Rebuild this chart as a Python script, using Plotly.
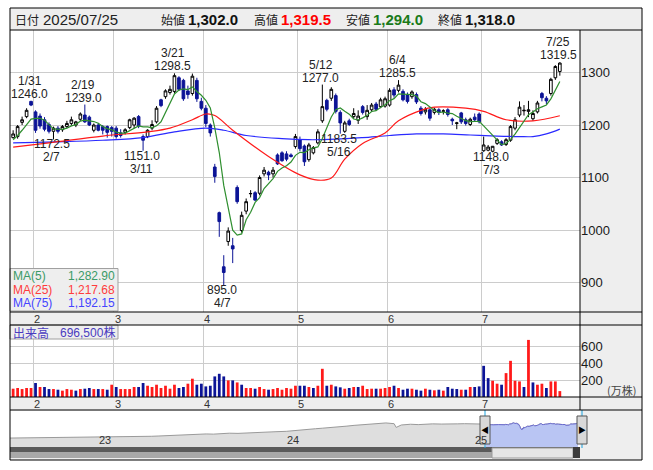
import plotly.graph_objects as go
import pandas as pd

W, H = 653, 470

# ---------------- data ----------------
holidays = ["2025-02-11", "2025-02-24", "2025-03-20", "2025-04-29",
            "2025-05-05", "2025-05-06", "2025-07-21"]
trade_days = [d for d in pd.bdate_range("2025-01-27", "2025-07-25")
              if d.strftime("%Y-%m-%d") not in holidays]

open_ = [1176, 1178, 1205, 1216, 1245, 1225, 1217, 1210, 1201, 1188,
         1194, 1191, 1197, 1203, 1200, 1211, 1219, 1215, 1190, 1200,
         1197, 1197, 1195, 1194, 1185, 1186, 1195, 1200, 1216, 1178,
         1178, 1194, 1206, 1248, 1254, 1262, 1264, 1290, 1285, 1265,
         1260, 1285, 1245, 1232, 1200, 1120, 1033, 930, 978, 970,
         1081, 999, 1036, 1069, 1071, 1070, 1107, 1110, 1107, 1143,
         1147, 1145, 1143, 1159, 1172, 1160, 1134, 1147, 1166, 1208,
         1247, 1251, 1256, 1224, 1188, 1208, 1216, 1209, 1235, 1216,
         1229, 1240, 1235, 1236, 1238, 1267, 1266, 1264, 1257, 1254,
         1258, 1232, 1225, 1229, 1224, 1229, 1226, 1229, 1211, 1203,
         1223, 1210, 1201, 1215, 1221, 1151, 1152, 1150, 1165, 1168,
         1163, 1171, 1194, 1219, 1227, 1226, 1212, 1225, 1260, 1251,
         1260, 1290, 1302]
high = [1190, 1200, 1216, 1232, 1246, 1228, 1222, 1215, 1205, 1197,
        1198, 1200, 1208, 1216, 1208, 1224, 1239, 1218, 1203, 1204,
        1200, 1199, 1198, 1198, 1192, 1194, 1212, 1215, 1219, 1182,
        1192, 1209, 1236, 1250, 1268, 1275, 1298.5, 1293, 1288, 1275,
        1298, 1290, 1252, 1238, 1203, 1126, 1035, 952, 1005, 985,
        1085, 1035, 1060, 1076, 1074, 1104, 1120, 1113, 1120, 1146,
        1150, 1150, 1146, 1183, 1178, 1163, 1166, 1160, 1192, 1277,
        1250, 1272, 1260, 1228, 1208, 1212, 1232, 1228, 1238, 1238,
        1242, 1244, 1252, 1254, 1270, 1272, 1285.5, 1268, 1262, 1266,
        1262, 1236, 1234, 1232, 1233, 1232, 1230, 1232, 1214, 1206,
        1225, 1214, 1214, 1222, 1224, 1178, 1162, 1160, 1175, 1171,
        1175, 1200, 1215, 1245, 1238, 1246, 1228, 1246, 1263, 1255,
        1290, 1314, 1319.5]
low = [1174, 1174, 1200, 1213, 1236, 1185, 1193, 1188, 1184, 1172.5,
       1184, 1187, 1194, 1199, 1196, 1208, 1204, 1198, 1186, 1188,
       1182, 1176, 1178, 1174, 1176, 1182, 1192, 1194, 1194, 1151,
       1175, 1190, 1203, 1234, 1250, 1258, 1260, 1265, 1246, 1250,
       1256, 1244, 1228, 1196, 1178, 1090, 987, 895, 970, 937,
       1050, 995, 1030, 1062, 1055, 1066, 1102, 1095, 1100, 1124,
       1130, 1131, 1138, 1155, 1150, 1122, 1130, 1144, 1163, 1204,
       1226, 1246, 1222, 1183.5, 1185, 1198, 1212, 1202, 1220, 1210,
       1225, 1227, 1232, 1233, 1235, 1252, 1262, 1245, 1241, 1250,
       1240, 1218, 1220, 1208, 1220, 1219, 1220, 1216, 1200, 1192,
       1202, 1199, 1198, 1206, 1203, 1149, 1150, 1148, 1162, 1160,
       1160, 1168, 1190, 1215, 1218, 1215, 1208, 1222, 1245, 1240,
       1256, 1286, 1294]
close = [1183, 1197, 1210, 1228, 1238, 1190, 1198, 1192, 1188, 1194,
         1188, 1197, 1203, 1210, 1206, 1221, 1206, 1200, 1200, 1190,
         1190, 1186, 1188, 1178, 1180, 1191, 1210, 1213, 1198, 1171,
         1190, 1201, 1232, 1237, 1265, 1268, 1294, 1268, 1250, 1258,
         1293, 1250, 1232, 1203, 1185, 1102, 1016, 919, 998, 964,
         1054, 1028, 1054, 1069.5, 1057, 1100, 1114, 1105, 1114, 1126,
         1132, 1135, 1140, 1178, 1155, 1130, 1162, 1157, 1187, 1235,
         1230, 1268, 1226, 1204, 1204, 1201, 1222, 1217, 1224, 1228,
         1238, 1230, 1248, 1250, 1266, 1257, 1276, 1248, 1245, 1263,
         1244, 1222, 1230, 1213, 1230, 1224, 1227, 1220, 1208, 1204,
         1206, 1203, 1211, 1210, 1206, 1162, 1158, 1159.5, 1172, 1162,
         1172, 1197, 1210, 1234, 1228, 1229, 1222, 1242, 1252, 1246,
         1287, 1311.5, 1318]
# volume in 10,000 shares (万株)
volume = [98, 106, 94, 106, 106, 165, 118, 118, 94, 94,
          86, 75, 94, 86, 75, 94, 98, 106, 94, 94,
          94, 86, 145, 118, 94, 94, 94, 118, 118, 165,
          133, 118, 145, 106, 133, 98, 145, 106, 118, 157,
          216, 145, 157, 125, 133, 243, 274, 243, 196, 196,
          172, 145, 106, 106, 98, 118, 94, 86, 94, 106,
          86, 106, 98, 133, 133, 133, 118, 106, 133, 333,
          133, 145, 125, 114, 98, 106, 118, 118, 133, 94,
          98, 98, 98, 106, 118, 133, 106, 86, 98, 98,
          86, 75, 98, 86, 79, 86, 75, 118, 98, 94,
          86, 86, 118, 118, 125, 368, 223, 192, 157, 145,
          282, 427, 192, 184, 118, 674, 172, 145, 157, 106,
          184, 184, 69.65]

ma5_head = [1172, 1180, 1190, 1200]
ma25_idx = [0, 8, 20, 30, 35, 40, 43, 45, 49, 57, 64, 68, 71, 74, 78, 83, 86,
            91, 94, 101, 105, 110, 116, 122]
ma25_val = [1158, 1166, 1179, 1187, 1194, 1210, 1221, 1218, 1190, 1140, 1105,
            1095, 1099, 1135, 1165, 1185, 1208, 1228, 1234, 1232, 1226, 1210,
            1208, 1217.68]
ma75_idx = [0, 10, 20, 29, 36, 43, 47, 52, 60, 66, 72, 78, 84, 90, 96, 102,
            108, 113, 116, 119, 122]
ma75_val = [1166, 1168, 1171, 1176, 1187, 1194, 1190, 1180, 1174, 1172, 1173,
            1176, 1180, 1183, 1183, 1181, 1179, 1178, 1178, 1183, 1192.15]

month_labels = ["2", "3", "4", "5", "6", "7"]
price_ticks = [900, 1000, 1100, 1200, 1300]
vol_ticks = [200, 400, 600]

# labelled extremes: (index, kind, date text, value text)
marks = [(4, "h", "1/31", "1246.0"), (9, "l", "2/7", "1172.5"),
         (16, "h", "2/19", "1239.0"), (29, "l", "3/11", "1151.0"),
         (36, "h", "3/21", "1298.5"), (47, "l", "4/7", "895.0"),
         (69, "h", "5/12", "1277.0"), (73, "l", "5/16", "1183.5"),
         (86, "h", "6/4", "1285.5"), (107, "l", "7/3", "1148.0"),
         (122, "h", "7/25", "1319.5")]

# navigator (long history)
nav_dates = ["2022-07-15", "2022-08-01", "2022-08-15", "2022-09-01", "2022-09-15",
             "2022-10-03", "2022-10-17", "2022-11-01", "2022-11-15", "2022-12-01",
             "2022-12-15", "2023-01-04", "2023-01-16", "2023-02-01", "2023-02-15",
             "2023-03-01", "2023-03-15", "2023-04-03", "2023-04-17", "2023-05-01",
             "2023-05-15", "2023-06-01", "2023-06-15", "2023-07-03", "2023-07-18",
             "2023-08-01", "2023-08-15", "2023-09-01", "2023-09-15", "2023-10-02",
             "2023-10-16", "2023-11-01", "2023-11-15", "2023-12-01", "2023-12-15",
             "2024-01-04", "2024-01-15", "2024-02-01", "2024-02-15", "2024-03-01",
             "2024-03-15", "2024-04-01", "2024-04-15", "2024-05-01", "2024-05-15",
             "2024-06-03", "2024-06-17", "2024-07-01", "2024-07-16", "2024-08-01",
             "2024-08-05", "2024-08-15", "2024-09-02", "2024-09-17", "2024-10-01",
             "2024-10-15", "2024-11-01", "2024-11-15", "2024-12-02", "2024-12-16",
             "2025-01-06", "2025-01-20"]
nav_vals = [480, 485, 480, 490, 485, 480, 490, 505, 520, 515,
            510, 505, 510, 515, 520, 540, 535, 560, 575, 590,
            610, 640, 660, 670, 680, 700, 690, 720, 740, 730,
            740, 760, 790, 810, 820, 840, 860, 900, 940, 980,
            1010, 1040, 1080, 1120, 1160, 1200, 1230, 1260, 1290, 1250,
            1050, 1180, 1220, 1200, 1230, 1240, 1230, 1220, 1240, 1250,
            1240, 1230]
year_labels = [("2023-01-01", "23"), ("2024-01-01", "24"), ("2025-01-01", "25")]

# ---------------- styles ----------------
NAVY = "#0c1496"
RED = "#ff1a1a"
GREEN = "#2f8f2f"
BLUE_MA = "#2a2aff"
GRID = "#cccccc"
PANEL = "#eeeeee"
FONT = "Liberation Sans, Noto Sans CJK JP, sans-serif"
JFONT = "Noto Sans CJK JP, Liberation Sans, sans-serif"


def px(x):
    return x / W


def py(y):
    return 1 - y / H


idx = list(range(len(trade_days)))
month_start = [i for i in idx[1:] if trade_days[i].month != trade_days[i - 1].month]

ma5 = pd.Series(close).rolling(5).mean().tolist()
ma5[:4] = ma5_head

vcolors = []
for i in idx:
    ref = close[i - 1] if i > 0 else open_[i]
    vcolors.append(RED if close[i] >= ref else NAVY)

nav_x = nav_dates + [d.strftime("%Y-%m-%d") for d in trade_days]
nav_y = nav_vals + close
sel_x = [d.strftime("%Y-%m-%d") for d in trade_days]

fig = go.Figure()

fig.add_trace(go.Candlestick(
    x=idx, open=open_, high=high, low=low, close=close,
    increasing=dict(line=dict(color="#000000", width=1), fillcolor="#ffffff"),
    decreasing=dict(line=dict(color=NAVY, width=1), fillcolor=NAVY),
    whiskerwidth=0, xaxis="x", yaxis="y", hoverinfo="skip", showlegend=False))

fig.add_trace(go.Scatter(x=ma75_idx, y=ma75_val, mode="lines",
                         line=dict(color=BLUE_MA, width=1.2, shape="spline", smoothing=1.0),
                         xaxis="x", yaxis="y", hoverinfo="skip"))
fig.add_trace(go.Scatter(x=ma25_idx, y=ma25_val, mode="lines",
                         line=dict(color=RED, width=1.2, shape="spline", smoothing=1.0),
                         xaxis="x", yaxis="y", hoverinfo="skip"))
fig.add_trace(go.Scatter(x=idx, y=ma5, mode="lines",
                         line=dict(color=GREEN, width=1.2),
                         xaxis="x", yaxis="y", hoverinfo="skip"))

fig.add_trace(go.Bar(x=idx, y=volume, width=0.62,
                     marker=dict(color=vcolors, line=dict(width=0)),
                     xaxis="x2", yaxis="y2", hoverinfo="skip"))

fig.add_trace(go.Scatter(x=nav_x, y=nav_y, mode="lines", fill="tozeroy",
                         fillcolor="#dedede", line=dict(color="#9a9a9a", width=1),
                         xaxis="x3", yaxis="y3", hoverinfo="skip"))
fig.add_trace(go.Scatter(x=sel_x, y=close, mode="lines", fill="tozeroy",
                         fillcolor="#b9c5f3", line=dict(color="#6a6ad0", width=1),
                         xaxis="x3", yaxis="y3", hoverinfo="skip"))

x_dom = [px(10), px(580)]
xr = [-0.7, 126.5]
common_x = dict(domain=x_dom, range=xr, showgrid=False, zeroline=False,
                showticklabels=False, ticks="", showline=False,
                minor=dict(tickmode="array", tickvals=[m - 0.5 for m in month_start],
                           showgrid=True, gridcolor=GRID, gridwidth=1, ticks=""),
                fixedrange=True)

fig.update_layout(
    width=W, height=H, margin=dict(l=0, r=0, t=0, b=0),
    paper_bgcolor="white", plot_bgcolor="rgba(0,0,0,0)",
    showlegend=False, boxgap=0.15, bargap=0.3,
    xaxis=dict(common_x, anchor="y", rangeslider=dict(visible=False)),
    yaxis=dict(domain=[py(312), py(30)], range=[843.8, 1381], side="right",
               anchor="x", tickmode="array", tickvals=price_ticks,
               gridcolor=GRID, gridwidth=1, zeroline=False, ticks="",
               tickfont=dict(size=13, color="#1a1a1a", family=FONT), fixedrange=True),
    xaxis2=dict(common_x, anchor="y2"),
    yaxis2=dict(domain=[py(397), py(325)], range=[0, 850], side="right",
                anchor="x2", tickmode="array", tickvals=vol_ticks,
                gridcolor=GRID, gridwidth=1, zeroline=False, ticks="",
                tickfont=dict(size=13, color="#1a1a1a", family=FONT), fixedrange=True),
    xaxis3=dict(domain=x_dom, type="date", range=["2022-07-15", "2025-07-29"],
                anchor="y3", showgrid=False, showticklabels=False, zeroline=False,
                fixedrange=True),
    yaxis3=dict(domain=[py(447), py(411)], range=[0, 1930], anchor="x3",
                visible=False, fixedrange=True),
)

shapes = []


def rect(x0, y0, x1, y1, fill, line=None, layer="below", lw=1):
    shapes.append(dict(type="rect", xref="paper", yref="paper",
                       x0=px(x0), x1=px(x1), y0=py(y0), y1=py(y1),
                       fillcolor=fill, layer=layer,
                       line=dict(color=line or fill, width=lw if line else 0)))


def hline(y, x0, x1, color="#000000", layer="above"):
    shapes.append(dict(type="line", xref="paper", yref="paper", x0=px(x0), x1=px(x1),
                       y0=py(y), y1=py(y), layer=layer, line=dict(color=color, width=1)))


def vline(x, y0, y1, color="#000000", layer="above"):
    shapes.append(dict(type="line", xref="paper", yref="paper", x0=px(x), x1=px(x),
                       y0=py(y0), y1=py(y1), layer=layer, line=dict(color=color, width=1)))


# background panels
rect(10, 8, 642, 30, PANEL)
rect(580, 30, 642, 312, PANEL)
rect(10, 312, 642, 325, PANEL)
rect(580, 325, 642, 397, PANEL)
rect(10, 397, 642, 410, PANEL)
rect(10, 410, 642, 460, PANEL)
rect(10, 411, 580, 447, "#ffffff")

# legend boxes (above traces)
rect(10, 268.5, 118, 311, "#eeeeee", line="#a0a0a0", layer="above")
rect(10, 325, 118, 339, "#eeeeee", line="#a0a0a0", layer="above")

# scroll bar
rect(10, 447, 580, 452, "#5a5a5a", layer="above")
rect(10, 452, 580, 458, "#a8a8a8", layer="above")
rect(492, 448, 573, 458, "#e6e6e6", line="#9a9a9a", layer="above")
rect(573, 447, 580, 458, "#3c3c3c", layer="above")

# selection edges & handles
vline(485, 410, 448, color="#19a3e0")
vline(582, 410, 448, color="#19a3e0")
rect(480, 416, 490, 444, "#d8d8d8", line="#555555", layer="above")
rect(577, 416, 587, 444, "#d8d8d8", line="#555555", layer="above")

# frame lines
for y in (30, 312, 325, 397, 410):
    hline(y, 10, 642)
vline(580, 30, 410)
vline(10, 8, 460)
vline(642, 8, 460)
hline(8, 10, 642)
hline(460, 10, 642)

fig.update_layout(shapes=shapes)

ann = []


def text(x, y, s, size=13, color="#1a1a1a", anchor="left", family=FONT, **kw):
    d = dict(xref="paper", yref="paper", x=px(x), y=py(y), text=s, showarrow=False,
             xanchor=anchor, yanchor="middle",
             font=dict(size=size, color=color, family=family))
    d.update(kw)
    ann.append(d)


# month labels in the two date bands
for m, lab in zip(month_start, month_labels):
    for yb in (318.5, 403.5):
        ann.append(dict(xref="x", yref="paper", x=m + 0.3, y=py(yb), text=lab,
                        showarrow=False, xanchor="center", yanchor="middle",
                        font=dict(size=11, color="#333333", family=FONT)))

# header
text(13, 19, "日付", 12, "#222222", family=JFONT)
text(41, 19, "2025/07/25", 15, "#222222")
text(159, 19, "始値", 12, "#222222", family=JFONT)
text(186, 19, "<b>1,302.0</b>", 15, "#111111")
text(252, 19, "高値", 12, "#222222", family=JFONT)
text(279, 19, "<b>1,319.5</b>", 15, "#ff0000")
text(344, 19, "安値", 12, "#222222", family=JFONT)
text(371, 19, "<b>1,294.0</b>", 15, "#1a7a1a")
text(436, 19, "終値", 12, "#222222", family=JFONT)
text(463, 19, "<b>1,318.0</b>", 15, "#111111")

# MA legend
text(11, 276, "MA(5)", 12, "#3a9a66")
text(117, 276, "1,282.90", 12, "#3a9a66", anchor="right")
text(11, 289.5, "MA(25)", 12, "#ff3c3c")
text(117, 289.5, "1,217.68", 12, "#ff3c3c", anchor="right")
text(11, 303, "MA(75)", 12, "#4444ff")
text(117, 303, "1,192.15", 12, "#4444ff", anchor="right")

# volume legend
text(11, 332, "出来高", 12, "#4a3cc0", family=JFONT)
text(117, 332, "696,500株", 12, "#4a3cc0", anchor="right", family=FONT + ", Noto Sans CJK JP")
text(638, 390, "(万株)", 11, "#444444", anchor="right", family=JFONT)

# navigator year labels & handle arrows
for d, s in year_labels:
    ann.append(dict(xref="x3", yref="paper", x=d, y=py(440), text=s, showarrow=False,
                    xanchor="left", yanchor="middle",
                    font=dict(size=11, color="#333333", family=FONT)))
text(485, 430, "◀", 8, "#000000", anchor="center")
text(582, 430, "▶", 8, "#000000", anchor="center")

# extreme labels
for i, kind, dtxt, vtxt in marks:
    if kind == "h":
        yv, sv, sd = high[i], 7, 20
    else:
        yv, sv, sd = low[i], -5, -18
    for s, sh in ((vtxt, sv), (dtxt, sd)):
        ann.append(dict(xref="x", yref="y", x=i, y=yv, text=s, showarrow=False,
                        xanchor="center", yanchor="middle", yshift=sh, xshift=-1.5,
                        font=dict(size=12, color="#222222", family=FONT)))

fig.update_layout(annotations=ann)

fig.write_html("out.html", config={"displayModeBar": False},
               post_script="document.body.style.margin='0';document.body.style.overflow='hidden';")
